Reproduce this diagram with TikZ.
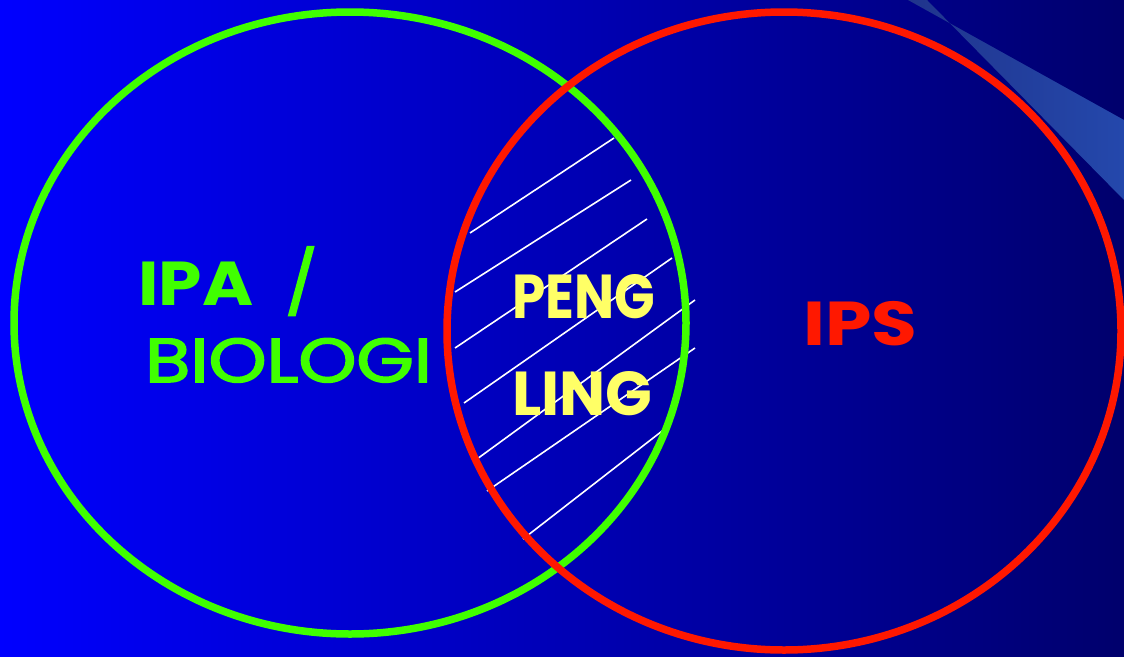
\documentclass[tikz,border=0pt]{standalone}
\usepackage{fontspec}
\newfontfamily\cf{Poppins}
\newfontfamily\cfm[FakeBold=2.5]{Poppins}
\definecolor{bgL}{RGB}{0,0,255}
\definecolor{bgR}{RGB}{0,0,108}
\definecolor{stripeL}{RGB}{32,52,140}
\definecolor{stripeR}{RGB}{36,72,172}
\definecolor{vgreen}{RGB}{64,255,0}
\definecolor{vred}{RGB}{255,24,0}
\definecolor{vyellow}{RGB}{255,255,102}
\tikzset{
  setring/.style={line width=7.5pt},
  hatchline/.style={white, line width=1.6pt},
  lbl/.style={anchor=base west, inner sep=0pt, font=\cf\fontsize{62}{62}\selectfont},
}
\begin{document}
\begin{tikzpicture}[x=1pt,y=-1pt]
\useasboundingbox (0,0) rectangle (1124,656);
\shade[left color=bgL, right color=bgR] (0,0) rectangle (1124,656);
\shade[left color=stripeL, right color=stripeR] (908,0) -- (1124,120) -- (1124,200) -- (927,0) -- cycle;
% hatching
\draw[hatchline] (470,233) -- (614,138);
\draw[hatchline] (455,292) -- (631,180);
\draw[hatchline] (455,348) -- (647,219);
\draw[hatchline] (464,403) -- (672,258);
\draw[hatchline] (477,459) -- (695,300);
\draw[hatchline] (487,491) -- (695,348);
\draw[hatchline] (523,539) -- (666,428);
% sets
\draw[setring, vgreen] (350,323) ellipse [x radius=336, y radius=311];
\draw[setring, vred] (784,331) ellipse [x radius=337, y radius=319];
% labels
\node[lbl, text=vgreen] (ipa) at (138,305) {\scalebox{1.12}[1]{\bfseries IPA}\hspace{32pt}\scalebox{1.1}[1]{\cfm /}};
\node[lbl, text=vgreen] (bio) at (145,382) {\scalebox{1.19}[1]{\cfm BIOLOGI}};
\node[lbl, text=vyellow] (peng) at (512,318) {\scalebox{0.86}[1]{\bfseries PENG}};
\node[lbl, text=vyellow] (ling) at (512,415) {\scalebox{0.99}[1]{\bfseries LING}};
\node[lbl, text=vred] (ips) at (803,345) {\scalebox{1.2}[1]{\bfseries IPS}};
\end{tikzpicture}
\end{document}
